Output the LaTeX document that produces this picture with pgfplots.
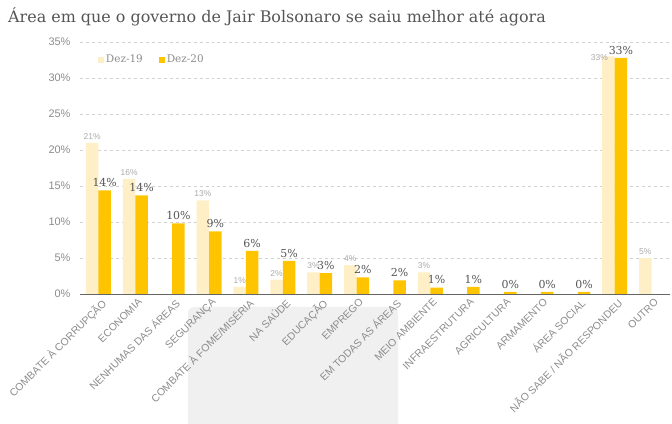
\documentclass[border=0pt]{standalone}
\usepackage{pgfplots}
\pgfplotsset{compat=1.18}
\usepackage{fontspec}
\setmainfont{Liberation Sans}
\newfontfamily\slab{DejaVu Serif}
\definecolor{c19}{HTML}{FFEFC6}
\definecolor{c20}{HTML}{FFC400}
\definecolor{tickc}{HTML}{8C8C8C}
\definecolor{ttl}{HTML}{555555}
\definecolor{lab19}{HTML}{AAAAAA}
\definecolor{wm}{HTML}{F0F0F0}
\pgfplotstableread{
x y dx dy
0 21 0 0
1 16 0 0
3 13 0 0
4 1 0 0
5 2 0 0
6 3 0 0
7 4 0 0
9 3 0 0
14 33 -9 -8
15 5 0 0
}\dezA
\pgfplotstableread{
x y
0 14.4
1 13.7
2 9.8
3 8.7
4 6.0
5 4.6
6 2.9
7 2.3
8 1.9
9 0.9
10 1.0
11 0.3
12 0.3
13 0.3
14 32.8
}\dezB
\begin{document}
\begin{tikzpicture}
\fill[wm, rounded corners=6bp] (188bp,-10bp) rectangle (398bp,117bp);
\begin{axis}[
  at={(80bp,130bp)}, anchor=south west,
  scale only axis, width=590bp, height=252bp,
  xmin=-0.5, xmax=15.5, ymin=0, ymax=35,
  ytick={0,5,...,35},
  yticklabel={\pgfmathprintnumber{\tick}\%},
  /pgf/number format/assume math mode=true,
  yticklabel style={font=\fontsize{11}{11}\selectfont, text=tickc, xshift=-6bp},
  xtick={0,...,15},
  xticklabels={COMBATE À CORRUPÇÃO, ECONOMIA, NENHUMAS DAS ÁREAS, SEGURANÇA, COMBATE À FOME/MISÉRIA, NA SAÚDE, EDUCAÇÃO, EMPREGO, EM TODAS AS ÁREAS, MEIO AMBIENTE, INFRAESTRUTURA, AGRICULTURA, ARMAMENTO, ÁREA SOCIAL, NÃO SABE / NÃO RESPONDEU, OUTRO},
  xticklabel style={font=\fontsize{10.5}{10.5}\selectfont, text=tickc, rotate=45, anchor=north east, inner sep=1pt, yshift=-3bp},
  major tick length=0pt,
  axis x line*=bottom, axis y line*=left,
  x axis line style={draw=black!60, line width=0.8pt},
  y axis line style={draw=none},
  ymajorgrids, grid style={dashed, draw=black!18, line width=0.5pt},
  ybar, bar width=12.5bp,
  legend style={at={(0.025,0.93)}, anchor=west, draw=none, fill=none,
    legend columns=2, font=\slab\fontsize{10.5}{10.5}\selectfont, text=tickc,
    /tikz/every even column/.append style={column sep=14bp}},
  legend image code/.code={\fill[#1] (0bp,-3bp) rectangle (6bp,3bp);},
]
\addplot+[fill=c19, draw=none, bar shift=-6.25bp,
  visualization depends on={\thisrow{dx} \as \dx},
  visualization depends on={\thisrow{dy} \as \dy},
  nodes near coords={\pgfmathprintnumber[fixed,precision=0]{\pgfplotspointmeta}\%},
  every node near coord/.append style={font=\fontsize{8.5}{8.5}\selectfont, text=lab19, xshift=\dx bp, yshift=\dy bp}]
  table[x=x,y=y] {\dezA};
\addplot+[fill=c20, draw=none, bar shift=6.25bp,
  nodes near coords={\pgfmathprintnumber[fixed,precision=0]{\pgfplotspointmeta}\%},
  every node near coord/.append style={font=\slab\fontsize{11}{11}\selectfont, text=ttl}]
  table[x=x,y=y] {\dezB};
\legend{Dez-19, Dez-20}
\end{axis}
\node[anchor=base west, font=\slab\fontsize{16}{16}\selectfont, text=ttl, inner sep=0] at (8bp,401bp) {Área em que o governo de Jair Bolsonaro se saiu melhor até agora};
\pgfresetboundingbox
\path[use as bounding box] (0,0) rectangle (672bp,424bp);
\end{tikzpicture}
\end{document}
